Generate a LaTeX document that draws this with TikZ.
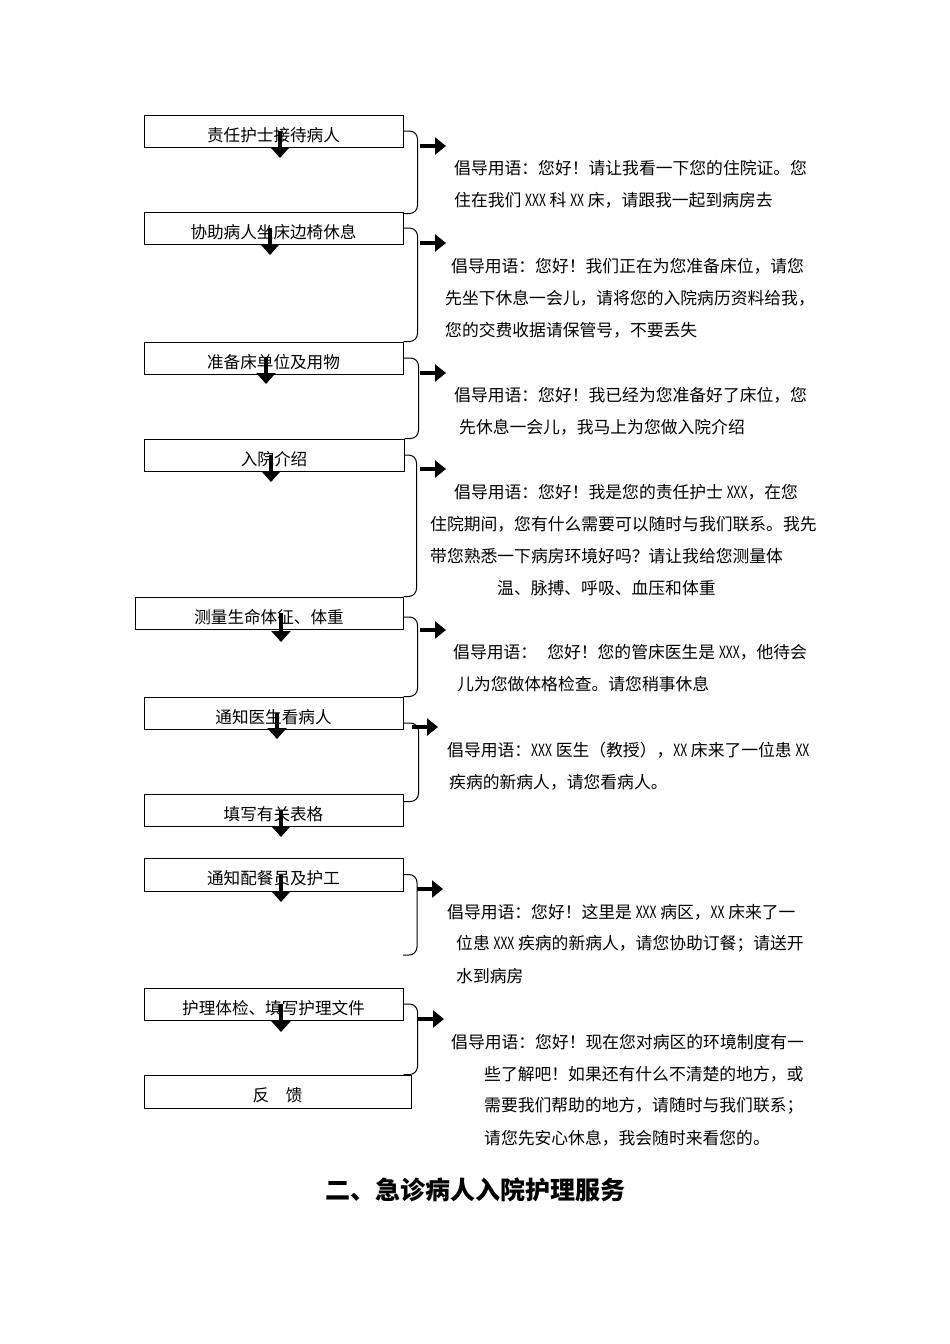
\documentclass[tikz,border=0pt]{standalone}
\usepackage{fontspec}
\setmainfont{Noto Sans CJK SC}
\usetikzlibrary{arrows.meta}
\newcommand{\nx}[1]{\scalebox{0.72}[1]{#1}}

\begin{document}
\begin{tikzpicture}[x=1pt,y=-1pt,
    flowbox/.style={draw, line width=1pt, minimum width=259pt, minimum height=32pt, inner sep=0pt, text height=22pt, text depth=2pt, font=\fontsize{16.6}{18}\selectfont},
    talk/.style={anchor=west, inner sep=0pt, font=\fontsize{16.8}{20}\selectfont},
    brace/.style={line width=1pt, rounded corners=8pt},
    downarrow/.style={line width=4pt, -{Triangle[length=11pt,width=19pt]}},
    sayarrow/.style={line width=4.5pt, -{Triangle[length=11pt,width=17pt]}}]
    \useasboundingbox (0,0) rectangle (950,1344);
    % steps
    \node[flowbox] (b1) at (273.5,131) {责任护士接待病人};
    \node[flowbox] (b2) at (273.5,228) {协助病人坐床边椅休息};
    \node[flowbox] (b3) at (273.5,358) {准备床单位及用物};
    \node[flowbox, minimum width=260pt] (b4) at (274,455) {入院介绍};
    \node[flowbox, minimum width=268pt] (b5) at (269,613) {测量生命体征、体重};
    \node[flowbox] (b6) at (273.5,713) {通知医生看病人};
    \node[flowbox] (b7) at (273.5,810) {填写有关表格};
    \node[flowbox, minimum height=33pt] (b8) at (273.5,874.5) {通知配餐员及护工};
    \node[flowbox] (b9) at (273.5,1004) {护理体检、填写护理文件};
    \node[flowbox, minimum width=267pt, minimum height=33pt] (b10) at (277.5,1091.5) {反　馈};
    % down arrows
    \coordinate (d1) at (280,158);
    \coordinate (d2) at (270,255);
    \coordinate (d3) at (266,384);
    \coordinate (d4) at (271,482);
    \coordinate (d5) at (281,642);
    \coordinate (d6) at (277,739);
    \coordinate (d7) at (281,837);
    \coordinate (d8) at (281,902);
    \coordinate (d9) at (281,1032);
    \foreach \i in {1,...,9}
        \draw[downarrow] (b\i.center -| d\i) -- (d\i);
    % braces
    \draw[brace] (b1.east) -| ([xshift=14pt,yshift=-2pt]b2.north east) -- ([yshift=-2pt]b2.north east);
    \draw[brace] (b2.east) -| ([xshift=14pt]b3.north east) -- (b3.north east);
    \draw[brace] (b3.east) -| ([xshift=14pt]b4.north east) -- (b4.north east);
    \draw[brace] (b4.east) -| ([xshift=13pt]b5.north east) -- (b5.north east);
    \draw[brace] ([yshift=-4pt]b5.east) -| ([xshift=14pt]b6.north east) -- (b6.north east);
    \draw[brace] ([yshift=-10pt]b6.east) -| ([xshift=15pt,yshift=-8pt]b7.north east) -- ([yshift=-8pt]b7.north east);
    \coordinate (e8) at (403,955);
    \draw[brace] (b8.east) -| ([xshift=14pt]e8) -- (e8);
    \draw[brace] (b9.east) -| ([xshift=14pt]b9.east |- b10.north) -- (b9.east |- b10.north);
    % arrows to the phrases
    \coordinate (s1) at (420,146);
    \coordinate (s2) at (420,243);
    \coordinate (s3) at (420,373);
    \coordinate (s4) at (420,469);
    \coordinate (s5) at (420,630);
    \coordinate (s6) at (412,727);
    \coordinate (s8) at (417,889);
    \coordinate (s9) at (418,1019);
    \foreach \i in {1,2,3,4,5,6,8,9}
        \draw[sayarrow] (s\i) -- ++(26,0);
    % phrases
    \node[talk] (t1a) at (454,168) {倡导用语：您好！请让我看一下您的住院证。您};
    \node[talk] (t1b) at (454,200) {住在我们 \nx{XXX} 科 \nx{XX} 床，请跟我一起到病房去};
    \node[talk] (t2a) at (451,266) {倡导用语：您好！我们正在为您准备床位，请您};
    \node[talk] (t2b) at (445,298) {先坐下休息一会儿，请将您的入院病历资料给我，};
    \node[talk] (t2c) at (445,330) {您的交费收据请保管号，不要丢失};
    \node[talk] (t3a) at (454,395) {倡导用语：您好！我已经为您准备好了床位，您};
    \node[talk] (t3b) at (459,427) {先休息一会儿，我马上为您做入院介绍};
    \node[talk] (t4a) at (454,492) {倡导用语：您好！我是您的责任护士 \nx{XXX}，在您};
    \node[talk] (t4b) at (430,524) {住院期间，您有什么需要可以随时与我们联系。我先};
    \node[talk] (t4c) at (430,556) {带您熟悉一下病房环境好吗？请让我给您测量体};
    \node[talk] (t4d) at (497,588) {温、脉搏、呼吸、血压和体重};
    \node[talk] (t5a) at (453,652) {倡导用语：\hspace{0.6em}您好！您的管床医生是 \nx{XXX}，他待会};
    \node[talk] (t5b) at (457,684) {儿为您做体格检查。请您稍事休息};
    \node[talk] (t6a) at (447,750) {倡导用语：\nx{XXX} 医生（教授），\nx{XX} 床来了一位患 \nx{XX}};
    \node[talk] (t6b) at (449,782) {疾病的新病人，请您看病人。};
    \node[talk] (t8a) at (447,912) {倡导用语：您好！这里是 \nx{XXX} 病区，\nx{XX} 床来了一};
    \node[talk] (t8b) at (456,944) {位患 \nx{XXX} 疾病的新病人，请您协助订餐；请送开};
    \node[talk] (t8c) at (456,976) {水到病房};
    \node[talk] (t9a) at (451,1042) {倡导用语：您好！现在您对病区的环境制度有一};
    \node[talk] (t9b) at (484,1074) {些了解吧！如果还有什么不清楚的地方，或};
    \node[talk] (t9c) at (484,1106) {需要我们帮助的地方，请随时与我们联系；};
    \node[talk] (t9d) at (484,1138) {请您先安心休息，我会随时来看您的。};
    % heading
    \node[font=\fontsize{25}{30}\selectfont\bfseries] (head) at (475,1190) {二、急诊病人入院护理服务};
\end{tikzpicture}
\end{document}
